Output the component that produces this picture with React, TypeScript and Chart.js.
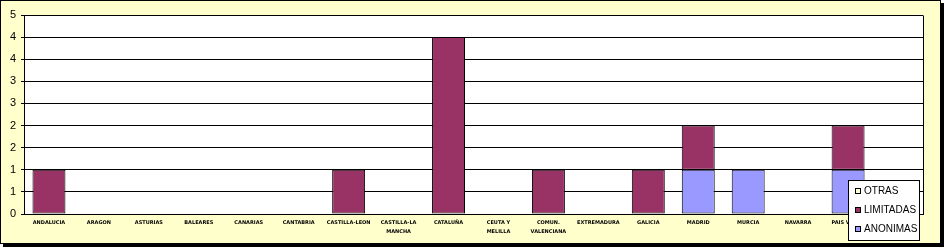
import React, { useEffect, useRef } from 'react';
import { Chart, registerables } from 'chart.js';

Chart.register(...registerables);

const categories: (string | string[])[] = [
  'ANDALUCIA', 'ARAGON', 'ASTURIAS', 'BALEARES', 'CANARIAS', 'CANTABRIA',
  'CASTILLA-LEON', ['CASTILLA-LA', 'MANCHA'], 'CATALUÑA', ['CEUTA Y', 'MELILLA'],
  ['COMUN.', 'VALENCIANA'], 'EXTREMADURA', 'GALICIA', 'MADRID', 'MURCIA', 'NAVARRA', 'PAIS VASCO', '',
];
const anonimas = [0, 0, 0, 0, 0, 0, 0, 0, 0, 0, 0, 0, 0, 1, 1, 0, 1, 0];
const limitadas = [1, 0, 0, 0, 0, 0, 1, 0, 4, 0, 1, 0, 1, 1, 0, 0, 1, 0];
const otras = [0, 0, 0, 0, 0, 0, 0, 0, 0, 0, 0, 0, 0, 0, 0, 0, 0, 0];
const yMin = 0;
const yMax = 4.5;
const yStep = 0.5;

const legendPlugin = {
  id: 'boxLegend',
  beforeDraw(chart: any) {
    const { ctx, chartArea } = chart;
    ctx.save();
    ctx.fillStyle = '#fff';
    ctx.fillRect(chartArea.left, chartArea.top, chartArea.right - chartArea.left, chartArea.bottom - chartArea.top);
    ctx.restore();
  },
  beforeDatasetsDraw(chart: any) {
    const { ctx, chartArea } = chart;
    ctx.save();
    ctx.strokeStyle = '#000';
    ctx.lineWidth = 1;
    ctx.beginPath();
    const r = Math.round(chartArea.right) + 0.5;
    ctx.moveTo(r, Math.round(chartArea.top) + 0.5);
    ctx.lineTo(r, Math.round(chartArea.bottom) + 0.5);
    ctx.stroke();
    ctx.restore();
  },
  afterDraw(chart: any) {
    const { ctx } = chart;
    const ds = chart.data.datasets.slice().reverse();
    const bx = 847.5, by = 179.5, bw = 71, bh = 60;
    ctx.save();
    ctx.fillStyle = '#fff';
    ctx.fillRect(bx, by, bw, bh);
    ctx.strokeStyle = '#000';
    ctx.lineWidth = 1;
    ctx.strokeRect(bx, by, bw, bh);
    ctx.font = '10px "Liberation Sans", Arial, sans-serif';
    ctx.textBaseline = 'middle';
    ctx.textAlign = 'left';
    ds.forEach((d: any, i: number) => {
      const cy = 190 + i * 19;
      ctx.fillStyle = d.backgroundColor;
      ctx.fillRect(854.5, cy - 2.5, 5, 5);
      ctx.strokeStyle = '#000';
      ctx.strokeRect(854.5, cy - 2.5, 5, 5);
      ctx.fillStyle = '#000';
      ctx.fillText(d.label, 863, cy + 0.5);
    });
    ctx.restore();
  },
};

function BarChart() {
  const ref = useRef<HTMLCanvasElement | null>(null);
  useEffect(() => {
    if (!ref.current) return;
    const chart = new Chart(ref.current, {
      type: 'bar',
      data: {
        labels: categories,
        datasets: [
          { label: 'ANONIMAS', data: anonimas, backgroundColor: '#9999FF', borderColor: '#000', borderWidth: 1, borderSkipped: false },
          { label: 'LIMITADAS', data: limitadas, backgroundColor: '#993366', borderColor: '#000', borderWidth: 1, borderSkipped: false },
          { label: 'OTRAS', data: otras, backgroundColor: '#FFFFCC', borderColor: '#000', borderWidth: 1, borderSkipped: false },
        ],
      },
      options: {
        animation: false,
        responsive: false,
        maintainAspectRatio: false,
        devicePixelRatio: 1,
        layout: { padding: { top: 14, right: 17, left: 0, bottom: 0 } },
        datasets: { bar: { barPercentage: 0.66, categoryPercentage: 1 } },
        plugins: { legend: { display: false }, tooltip: { enabled: false }, title: { display: false } },
        scales: {
          x: {
            stacked: true,
            grid: { display: false, drawTicks: false, tickLength: 0 },
            border: { display: true, color: '#000', width: 1 },
            ticks: {
              autoSkip: false,
              maxRotation: 0,
              minRotation: 0,
              padding: 4,
              color: '#000',
              font: { family: '"DejaVu Sans", sans-serif', size: 5, weight: 'bold', lineHeight: 1.8 },
            },
            afterFit: (s: any) => { s.height = 29; },
          },
          y: {
            stacked: true,
            min: yMin,
            max: yMax,
            grid: { color: '#000', lineWidth: 1, drawTicks: true, tickLength: 3, tickColor: '#000' },
            border: { display: true, color: '#000', width: 1 },
            ticks: {
              stepSize: yStep,
              padding: 5,
              color: '#000',
              font: { family: '"Liberation Sans", Arial, sans-serif', size: 11 },
              callback: (v: any) => String(Math.round(Number(v))),
            },
            afterFit: (s: any) => { s.width = 23; },
          },
        },
      },
      plugins: [legendPlugin],
    } as any);
    return () => chart.destroy();
  }, []);
  return <canvas ref={ref} width={939} height={242} style={{ display: 'block', width: 939, height: 242 }} />;
}

export default function App() {
  return (
    <div
      style={{
        position: 'fixed', left: 0, top: 0, width: 939, height: 242,
        border: '1px solid #000', background: '#FFFFCC', boxShadow: '3px 3px 0 #000',
      }}
    >
      <BarChart />
    </div>
  );
}
